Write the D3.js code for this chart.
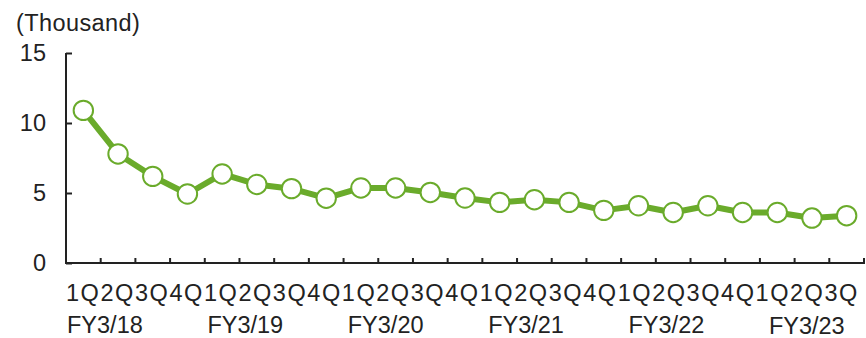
<!DOCTYPE html>
<html><head><meta charset="utf-8">
<script src="https://cdn.jsdelivr.net/npm/d3@7"></script>
<style>
html,body{margin:0;padding:0;background:#fff;}
svg{display:block;font-family:"Liberation Sans",Arial,sans-serif;}
</style></head>
<body>
<svg id="c" width="866" height="338"></svg>
<script>
const quarters = ["1Q","2Q","3Q","4Q","1Q","2Q","3Q","4Q","1Q","2Q","3Q","4Q","1Q","2Q","3Q","4Q","1Q","2Q","3Q","4Q","1Q","2Q","3Q"];
const fiscalYears = ["FY3/18","FY3/19","FY3/20","FY3/21","FY3/22","FY3/23"];
const values = [10.9,7.79,6.19,4.93,6.36,5.61,5.31,4.63,5.36,5.36,5.04,4.64,4.33,4.52,4.33,3.76,4.09,3.61,4.09,3.61,3.61,3.21,3.38];
const yTicks = [0,5,10,15];
const unitLabel = "(Thousand)";

(function () {
const svg = d3.select("#c");
const green = "#6aab2b", ink = "#222222";
const pLeft = 66, pRight = 864, pTop = 53, pBottom = 263;
const fs = 23.5;
const idx = d3.range(values.length);
const x = d3.scaleBand().domain(idx).range([pLeft, pRight]).padding(0);
const y = d3.scaleLinear().domain([0, 15]).range([pBottom, pTop]);

// unit label
svg.append("text").attr("x", 16).attr("y", 31).attr("font-size", fs)
  .attr("letter-spacing", "0.4px").attr("fill", ink).text(unitLabel);

// y axis
const yAxis = svg.append("g").attr("transform", `translate(${pLeft},0)`)
  .call(d3.axisRight(y).tickValues(yTicks).tickSize(6).tickFormat(""));
yAxis.select(".domain").attr("d", `M0,${pTop}H0V${pBottom}`).attr("stroke", ink).attr("stroke-width", 2);
yAxis.selectAll(".tick line").attr("stroke", ink).attr("stroke-width", 2);
svg.append("g").selectAll("text").data(yTicks).join("text")
  .attr("x", 46).attr("y", d => y(d)).attr("dy", "0.36em")
  .attr("text-anchor", "end").attr("font-size", fs).attr("fill", ink).text(d => d);

// x axis
const boundaries = idx.map(i => x(i) + x.bandwidth());
svg.append("line").attr("x1", pLeft - 1).attr("x2", pRight + 1).attr("y1", pBottom).attr("y2", pBottom)
  .attr("stroke", ink).attr("stroke-width", 2);
svg.append("g").selectAll("line").data(boundaries).join("line")
  .attr("x1", d => d).attr("x2", d => d).attr("y1", pBottom).attr("y2", pBottom - 5)
  .attr("stroke", ink).attr("stroke-width", 2);

// quarter labels
const xl = d3.scaleBand().domain(idx).range([66, 859]);
svg.append("g").selectAll("text").data(quarters).join("text")
  .attr("x", (d, i) => xl(i)).attr("y", 301).attr("font-size", fs)
  .attr("letter-spacing", "1.5px").attr("fill", ink).text(d => d);

// fiscal year labels
svg.append("g").selectAll("text").data(fiscalYears).join("text")
  .attr("x", (d, i) => x(i * 4) + 1 + i * 1.6).attr("y", (d, i) => i === 5 ? 334 : 333)
  .attr("font-size", fs).attr("fill", ink).text(d => d);

// line
const cx = i => x(i) + x.bandwidth() / 2;
svg.append("path").datum(values)
  .attr("d", d3.line().x((d, i) => cx(i)).y(d => y(d)))
  .attr("fill", "none").attr("stroke", green).attr("stroke-width", 6).attr("stroke-linejoin", "round");
svg.append("g").selectAll("circle").data(values).join("circle")
  .attr("cx", (d, i) => cx(i)).attr("cy", d => y(d)).attr("r", 9.7)
  .attr("fill", "#fff").attr("stroke", green).attr("stroke-width", 2);
})();
</script>
</body></html>
